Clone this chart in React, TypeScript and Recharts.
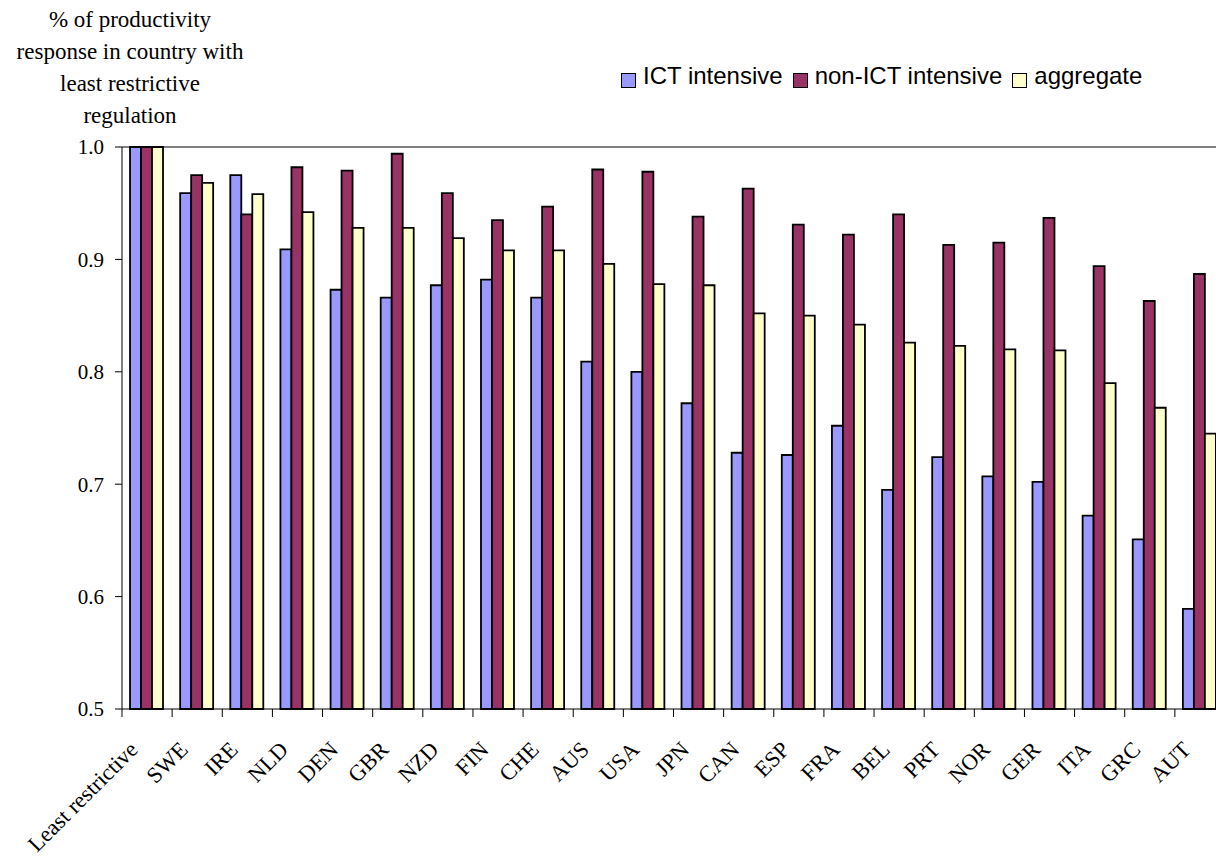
import React from 'react';
import { BarChart, Bar, XAxis, YAxis, ReferenceLine } from 'recharts';

const categories = ['Least restrictive', 'SWE', 'IRE', 'NLD', 'DEN', 'GBR', 'NZD', 'FIN', 'CHE', 'AUS', 'USA', 'JPN', 'CAN', 'ESP', 'FRA', 'BEL', 'PRT', 'NOR', 'GER', 'ITA', 'GRC', 'AUT'];
const ictIntensive = [1.0, 0.959, 0.975, 0.909, 0.873, 0.866, 0.877, 0.882, 0.866, 0.809, 0.8, 0.772, 0.728, 0.726, 0.752, 0.695, 0.724, 0.707, 0.702, 0.672, 0.651, 0.589];
const nonIctIntensive = [1.0, 0.975, 0.94, 0.982, 0.979, 0.994, 0.959, 0.935, 0.947, 0.98, 0.978, 0.938, 0.963, 0.931, 0.922, 0.94, 0.913, 0.915, 0.937, 0.894, 0.863, 0.887];
const aggregate = [1.0, 0.968, 0.958, 0.942, 0.928, 0.928, 0.919, 0.908, 0.908, 0.896, 0.878, 0.877, 0.852, 0.85, 0.842, 0.826, 0.823, 0.82, 0.819, 0.79, 0.768, 0.745];
const yTicks = [0.5, 0.6, 0.7, 0.8, 0.9, 1.0];
const titleLines = ['% of productivity', 'response in country with', 'least restrictive', 'regulation'];
const legendItems = [
  { label: 'ICT intensive', color: '#9999ff' },
  { label: 'non-ICT intensive', color: '#993366' },
  { label: 'aggregate', color: '#ffffcc' },
];

const data = categories.map((c, i) => ({
  country: c,
  ict: ictIntensive[i],
  nonIct: nonIctIntensive[i],
  agg: aggregate[i],
}));

const SERIF = '"Liberation Serif", "Times New Roman", serif';
const SANS = '"Liberation Sans", Arial, sans-serif';

const PLOT_LEFT = 122;
const PLOT_RIGHT = 1225;
const BAND = (PLOT_RIGHT - PLOT_LEFT) / categories.length;

function CountryTick(props: any) {
  const { x, y, payload } = props;
  return (
    <g>
      <line x1={x - BAND / 2} y1={y} x2={x - BAND / 2} y2={y + 8} stroke="#000" />
      <text
        transform={`translate(${x - 8},${y + 42}) rotate(-45)`}
        textAnchor="end"
        fontFamily={SERIF}
        fontSize={22.5}
        fill="#000"
      >
        {payload.value}
      </text>
    </g>
  );
}

export default function App() {
  return (
    <div style={{ position: 'absolute', left: 0, top: 0, width: 1216, height: 857, overflow: 'hidden', background: '#fff' }}>
      <div style={{ position: 'absolute', left: 0, top: 4, width: 260, textAlign: 'center', fontFamily: SERIF, fontSize: 23, lineHeight: '32px', color: '#000' }}>
        {titleLines.map((l) => (
          <div key={l}>{l}</div>
        ))}
      </div>
      <div style={{ position: 'absolute', left: 621, top: 62, display: 'flex', alignItems: 'center', fontFamily: SANS, fontSize: 24, color: '#000' }}>
        {legendItems.map((it) => (
          <div key={it.label} style={{ display: 'flex', alignItems: 'center', marginRight: 10 }}>
            <span style={{ width: 15, height: 15, boxSizing: 'border-box', border: '1px solid #000', background: it.color, marginRight: 7, display: 'inline-block', position: 'relative', top: 4 }} />
            <span>{it.label}</span>
          </div>
        ))}
      </div>
      <BarChart
        width={1240}
        height={857}
        data={data}
        margin={{ top: 147, right: 1240 - PLOT_RIGHT, left: 0, bottom: 0 }}
        barCategoryGap="16%"
        barGap={0}
      >
        <XAxis
          dataKey="country"
          interval={0}
          height={148}
          tickSize={0}
          tickMargin={0}
          axisLine={{ stroke: '#000' }}
          tick={<CountryTick />}
        />
        <YAxis
          width={PLOT_LEFT}
          domain={[0.5, 1.0]}
          ticks={yTicks}
          tickFormatter={(v: number) => v.toFixed(1)}
          tickSize={7}
          tickMargin={11}
          axisLine={{ stroke: '#000' }}
          tickLine={{ stroke: '#000' }}
          tick={{ fill: '#000', fontSize: 21, fontFamily: SERIF }}
        />
        <ReferenceLine y={1.0} stroke="#000" />
        <Bar dataKey="ict" fill="#9999ff" stroke="#000" strokeWidth={1.8} isAnimationActive={false} />
        <Bar dataKey="nonIct" fill="#993366" stroke="#000" strokeWidth={1.8} isAnimationActive={false} />
        <Bar dataKey="agg" fill="#ffffcc" stroke="#000" strokeWidth={1.8} isAnimationActive={false} />
      </BarChart>
    </div>
  );
}
